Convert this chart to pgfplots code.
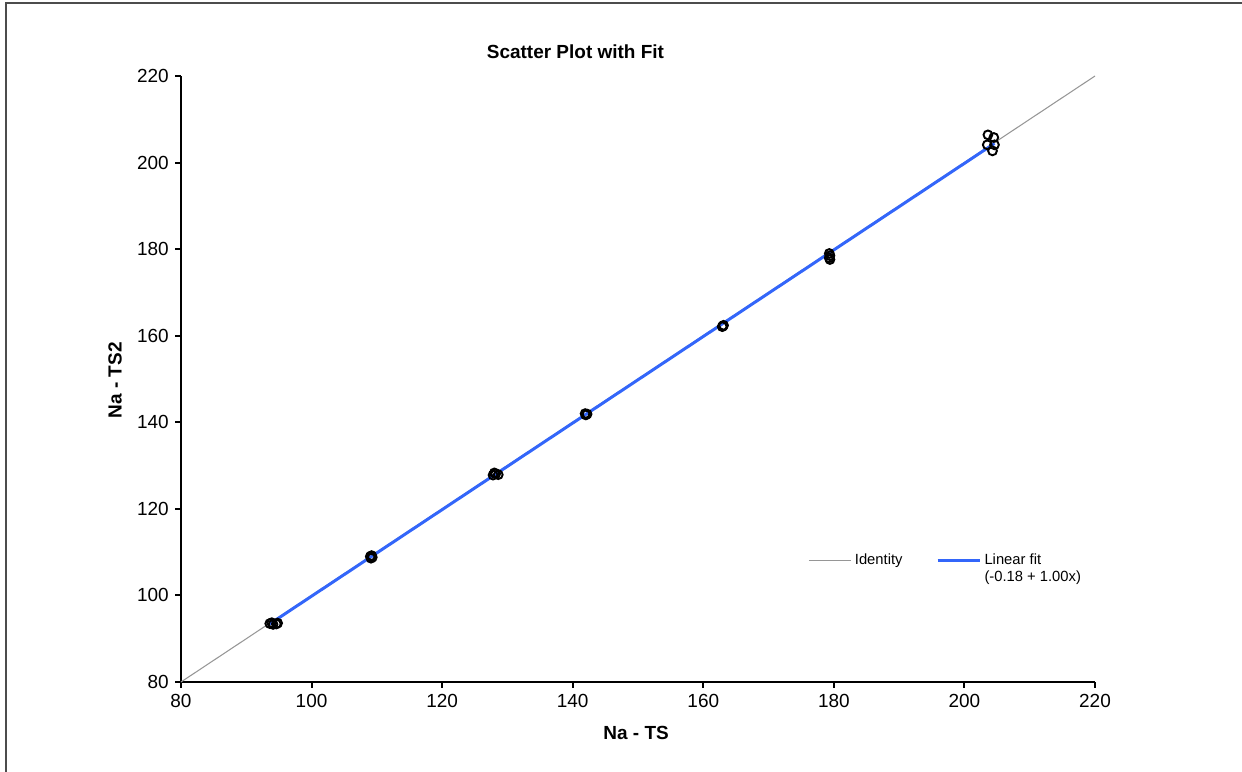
\documentclass[border=0pt]{standalone}
\usepackage{fontspec}
\setmainfont{Liberation Sans}
\usepackage{pgfplots}
\usepackage{pgfplotstable}
\pgfplotsset{compat=1.18}
\definecolor{fitblue}{RGB}{51,102,250}
\definecolor{idgray}{RGB}{150,150,150}
\pgfplotsset{longline/.style={legend image code/.code={\draw[##1] (0cm,0cm) -- (0.84cm,0cm);}}}
\pgfplotstableread{
x y
93.6 93.5
93.9 93.7
94.1 93.3
94.6 93.4
94.8 93.6
109.1 108.6
109.2 109.2
109.3 108.8
109.0 109.0
127.8 127.8
128.2 128.1
128.6 127.9
128.0 128.3
142.0 141.7
142.2 141.9
141.9 142.0
163.0 162.2
163.1 162.4
162.9 162.1
179.3 179.0
179.4 178.5
179.3 178.0
179.4 177.6
203.6 206.4
204.5 205.8
203.5 204.1
204.6 204.1
204.3 202.7
}\pts
\begin{document}
\begin{tikzpicture}
\useasboundingbox (0,0) rectangle (24.84cm,15.44cm);
\draw[line width=0.9pt, black!70] (0.12cm,-0.5cm) -- (0.12cm,15.38cm) -- (25.5cm,15.38cm);
\begin{axis}[
  at={(3.62cm,1.80cm)}, anchor=south west, scale only axis,
  width=18.28cm, height=12.12cm,
  xmin=80, xmax=220, ymin=80, ymax=220,
  axis lines=left, axis line style={-, line width=1.1pt},
  xtick={80,100,...,220}, ytick={80,100,...,220},
  tick align=outside, major tick length=0.12cm,
  tick style={line width=1.1pt, black},
  ticklabel style={font=\fontsize{10.8}{13}\selectfont},
  /pgf/number format/assume math mode=true,
  clip=false,
  legend columns=2,
  legend cell align=left,
  legend style={at={(0.686,0.2178)}, anchor=north west, draw=none, fill=none,
    inner sep=0pt, font=\fontsize{8.4}{9.6}\selectfont,
    /tikz/every even column/.append style={column sep=0.6cm}},
]
\addplot[idgray, line width=0.6pt, longline]
  coordinates {(80,80) (220,220)};
\addlegendentry{Identity}
\addplot[fitblue, line width=1.7pt, longline]
  coordinates {(93.6,93.42) (204.6,204.42)};
\addlegendentry{\vtop{\hbox{Linear fit}\hbox{(-0.18 + 1.00x)}}}
\addplot[only marks, mark=o, mark size=2.5pt, mark options={line width=1.1pt, black}, forget plot]
  table[x=x,y=y] {\pts};
\node[font=\bfseries\fontsize{10.8}{13}\selectfont] at (rel axis cs:0.4316,1.0396) {Scatter Plot with Fit};
\node[font=\bfseries\fontsize{10.8}{13}\selectfont] at (rel axis cs:0.498,-0.084) {Na - TS};
\node[font=\bfseries\fontsize{10.8}{13}\selectfont, rotate=90] at (rel axis cs:-0.0722,0.498) {Na - TS2};
\end{axis}
\end{tikzpicture}
\end{document}
